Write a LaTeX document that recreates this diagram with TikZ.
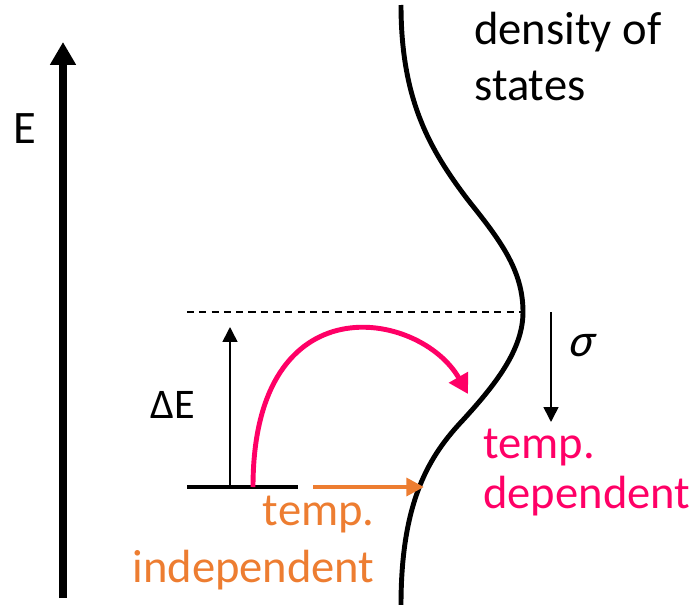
\documentclass[tikz,border=0pt]{standalone}
\usepackage{fontspec}
\setmainfont{Carlito}
\usetikzlibrary{arrows.meta}
\definecolor{mag}{HTML}{FF0066}
\definecolor{org}{HTML}{ED7D31}
\begin{document}
\begin{tikzpicture}[x=0.02cm,y=-0.02cm,
  big/.style={font=\fontsize{26.5}{32}\selectfont, inner sep=0pt},
  mid/.style={font=\fontsize{24}{29}\selectfont, inner sep=0pt},
  thinarrow/.style={line width=0.9pt, -{Triangle[width=8.5pt,length=8.5pt]}}]
\useasboundingbox (0,0) rectangle (697,605);
% energy axis
\coordinate (Ebot) at (63,598);
\coordinate (Etop) at (63,42);
\draw[line width=4.5pt, -{Triangle[width=14pt,length=13pt]}] (Ebot) -- (Etop);
\node[big, anchor=base west] (Elab) at (13,143) {E};
% density of states curve
\coordinate (ctop) at (401,5);
\coordinate (cinf1) at (468,200);
\coordinate (peak) at (523,312);
\coordinate (cinf2) at (463,420);
\coordinate (cbot) at (401,605);
\draw[line width=2.8pt]
  (ctop) .. controls (401,100) and (430,150) .. (cinf1)
         .. controls (500,240) and (523,270) .. (peak)
         .. controls (523,350) and (495,385) .. (cinf2)
         .. controls (430,455) and (401,500) .. (cbot);
\coordinate (magtip) at (468,394);
\coordinate (orgtip) at (424,487);
\node[big, anchor=base west] (dos1) at (474,45) {density of};
\node[big, anchor=base west] (dos2) at (474,100) {states};
% dashed level
\coordinate (dashL) at (187,312);
\draw[line width=0.6pt, dash pattern=on 4pt off 3pt] (dashL) -- (peak);
% sigma arrow
\coordinate (sigTop) at (551,312);
\coordinate (sigBot) at (551,422);
\draw[thinarrow] (sigTop) -- (sigBot);
\node[big, anchor=base west] (sig) at (567,356) {\addfontfeature{FakeSlant=0.25}σ};
% level line
\coordinate (levL) at (187,487);
\coordinate (levR) at (298,487);
\draw[line width=2.3pt] (levL) -- (levR);
% Delta E arrow
\coordinate (dEbot) at (230,487);
\coordinate (dEtop) at (230,327);
\draw[thinarrow] (dEbot) -- (dEtop);
\node[mid, anchor=base west] (dElab) at (150,418) {ΔE};
% magenta hop
\coordinate (magstart) at (253,487);
\draw[mag, line width=2.8pt, -{Triangle[width=12pt,length=11pt]}]
  (magstart) .. controls (253,280) and (420,310) .. (magtip);
\node[big, mag, anchor=base west] (td1) at (483,458) {temp.};
\node[big, mag, anchor=base west] (td2) at (483,508) {dependent};
% orange
\coordinate (orgstart) at (313,487);
\draw[org, line width=2.8pt, -{Triangle[width=10pt,length=10pt]}] (orgstart) -- (orgtip);
\node[big, org, anchor=base east] (ti1) at (375,525) {temp.};
\node[big, org, anchor=base east] (ti2) at (375,582) {independent};
\end{tikzpicture}
\end{document}
